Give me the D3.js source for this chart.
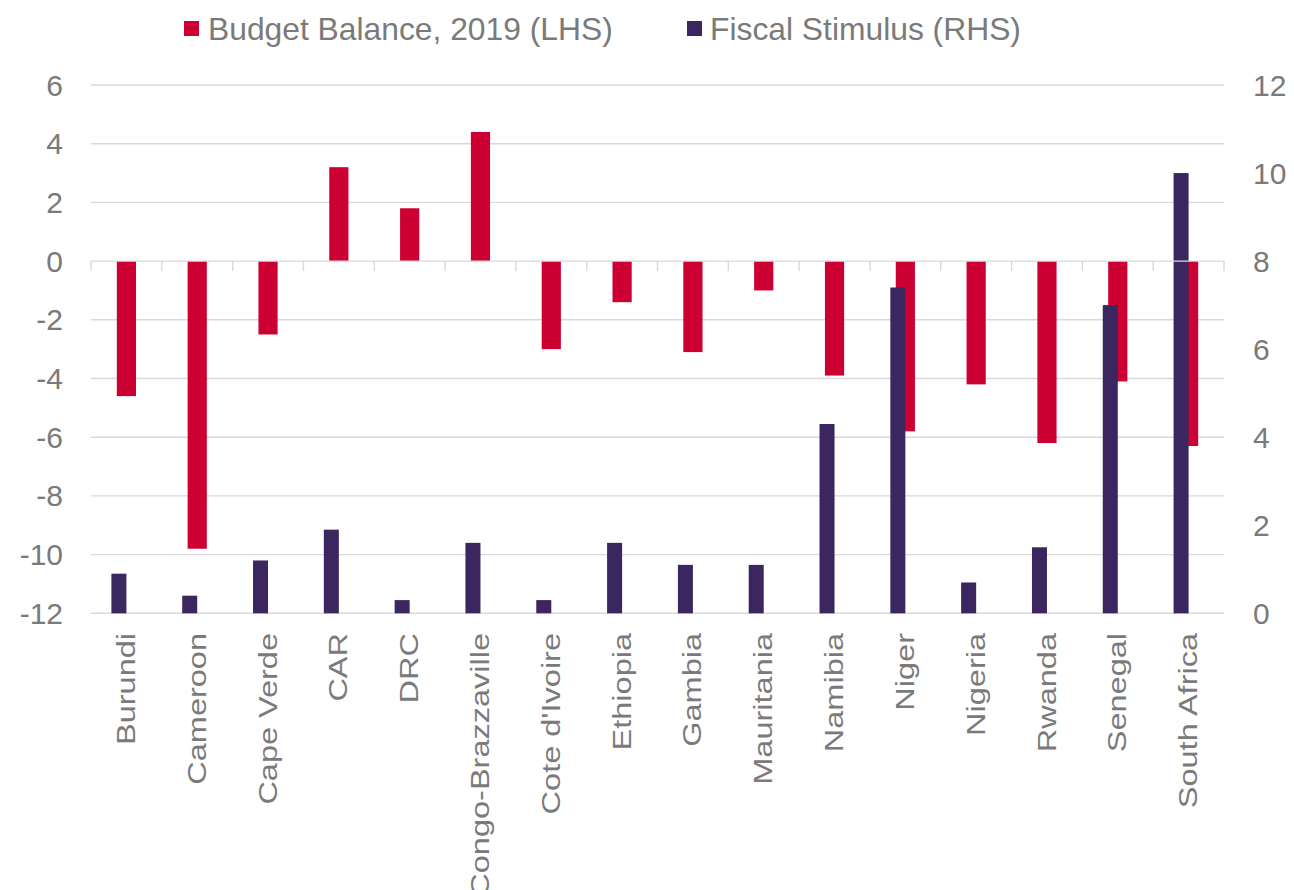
<!DOCTYPE html>
<html>
<head>
<meta charset="utf-8">
<script src="https://cdn.jsdelivr.net/npm/d3@7/dist/d3.min.js"></script>
<style>
  html, body { margin: 0; padding: 0; background: #ffffff; }
  svg { display: block; font-family: "Liberation Sans", Arial, sans-serif; }
</style>
</head>
<body>
<svg id="chart" width="1294" height="890"></svg>
<script>
const categories = ["Burundi", "Cameroon", "Cape Verde", "CAR", "DRC", "Congo-Brazzaville",
  "Cote d'Ivoire", "Ethiopia", "Gambia", "Mauritania", "Namibia", "Niger", "Nigeria",
  "Rwanda", "Senegal", "South Africa"];
const budgetBalance = [-4.6, -9.8, -2.5, 3.2, 1.8, 4.4, -3.0, -1.4, -3.1, -1.0, -3.9, -5.8, -4.2, -6.2, -4.1, -6.3];
const fiscalStimulus = [0.9, 0.4, 1.2, 1.9, 0.3, 1.6, 0.3, 1.6, 1.1, 1.1, 4.3, 7.4, 0.7, 1.5, 7.0, 10.0];
const leftTicks = [6, 4, 2, 0, -2, -4, -6, -8, -10, -12];
const rightTicks = [12, 10, 8, 6, 4, 2, 0];
const seriesNames = ["Budget Balance, 2019 (LHS)", "Fiscal Stimulus (RHS)"];

const RED = "#CC0033", PURPLE = "#3C2660", GRID = "#d9d9d9", TEXT = "#7a7a7a";
const svg = d3.select("#chart");

const x = d3.scaleBand().domain(categories).range([91, 1224]).padding(0);
const yL = d3.scaleLinear().domain([-12, 6]).range([613.3, 85]);
const yR = d3.scaleLinear().domain([0, 12]).range([613.3, 85]);
const bw = x.bandwidth();

// gridlines (left axis)
svg.append("g").selectAll("line").data(leftTicks.filter(d => d !== 0)).join("line")
  .attr("x1", 91).attr("x2", 1224)
  .attr("y1", d => yL(d)).attr("y2", d => yL(d))
  .attr("stroke", GRID).attr("stroke-width", 1.4);

// left tick labels
svg.append("g").selectAll("text").data(leftTicks).join("text")
  .attr("x", 63).attr("y", d => yL(d)).attr("dy", "0.35em")
  .attr("text-anchor", "end").attr("fill", TEXT).attr("font-size", 30)
  .text(d => d);

// right tick labels
svg.append("g").selectAll("text").data(rightTicks).join("text")
  .attr("x", 1253).attr("y", d => yR(d)).attr("dy", "0.35em")
  .attr("text-anchor", "start").attr("fill", TEXT).attr("font-size", 30)
  .text(d => d);

// budget balance bars (LHS)
const redW = bw * 0.271;
svg.append("g").selectAll("rect").data(budgetBalance).join("rect")
  .attr("x", (d, i) => x(categories[i]) + bw / 2 - redW / 2)
  .attr("width", redW)
  .attr("y", d => yL(Math.max(0, d)))
  .attr("height", d => Math.abs(yL(d) - yL(0)))
  .attr("fill", RED);

// fiscal stimulus bars (RHS)
const purW = bw * 0.212;
svg.append("g").selectAll("rect").data(fiscalStimulus).join("rect")
  .attr("x", (d, i) => x(categories[i]) + bw / 2 - purW)
  .attr("width", purW)
  .attr("y", d => yR(d))
  .attr("height", d => yR(0) - yR(d))
  .attr("fill", PURPLE);

// category axis at zero with ticks
const axisG = svg.append("g");
axisG.append("line").attr("x1", 91).attr("x2", 1224)
  .attr("y1", yL(0)).attr("y2", yL(0))
  .attr("stroke", GRID).attr("stroke-width", 1.4);
const bounds = categories.map(c => x(c)).concat([x.range()[1]]);
axisG.selectAll("line.tk").data(bounds).join("line").attr("class", "tk")
  .attr("x1", d => d).attr("x2", d => d)
  .attr("y1", yL(0)).attr("y2", yL(0) + 10)
  .attr("stroke", GRID).attr("stroke-width", 1.4);

// category labels (rotated)
svg.append("g").selectAll("text").data(categories).join("text")
  .attr("transform", d => `translate(${x(d) + bw / 2},633) rotate(-90) scale(1.25,1)`)
  .attr("dy", "0.33em")
  .attr("text-anchor", "end").attr("fill", TEXT).attr("font-size", 26)
  .text(d => d);

// legend
const legend = [
  { name: seriesNames[0], color: RED, rx: 184, tx: 208 },
  { name: seriesNames[1], color: PURPLE, rx: 687, tx: 710 }
];
const lg = svg.append("g");
legend.forEach(l => {
  lg.append("rect").attr("x", l.rx).attr("y", 21).attr("width", 15).attr("height", 15).attr("fill", l.color);
  lg.append("text").attr("x", l.tx).attr("y", 40).attr("fill", TEXT).attr("font-size", 31.8).text(l.name);
});
</script>
</body>
</html>
